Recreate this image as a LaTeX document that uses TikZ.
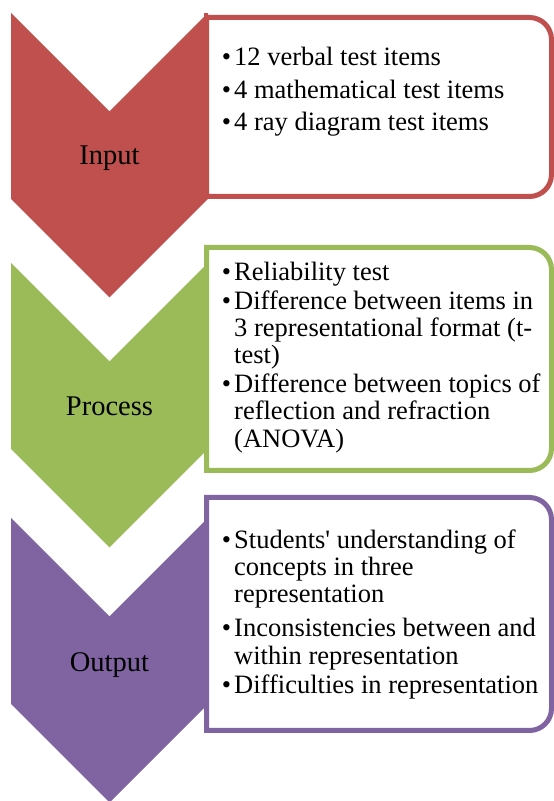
\documentclass[tikz,border=0pt]{standalone}
\usepackage{fontspec}
\setmainfont{Liberation Serif}
\begin{document}
\begin{tikzpicture}[x=1pt,y=1pt,
  stagefill/.style={fill=#1, draw=none},
  listbox/.style={draw=#1, line width=5pt, fill=white},
  stagelabel/.style={anchor=base, inner sep=0pt, font=\fontsize{28.5}{32}\selectfont},
  itemline/.style={anchor=base west, inner sep=0pt, font=\fontsize{26.5}{28}\selectfont},
]
\definecolor{inred}{HTML}{C0504D}
\definecolor{procgreen}{HTML}{9BBB59}
\definecolor{outpurple}{HTML}{8064A2}
\def\bul{\llap{\textbullet\kern3pt}}

% page frame
\path[use as bounding box, fill=white] (0,0) rectangle (554,801);

% ---------- Input stage ----------
\fill[stagefill=inred] (11,788) -- (109.5,689.5) -- (208,788) -- (208,602)
  -- (109.5,503.5) -- (11,602) -- cycle;
\draw[listbox=inred] (206.5,604.5) -- (206.5,783.5) -- (529.5,783.5)
  arc[start angle=90, end angle=0, radius=22] -- (551.5,626.5)
  arc[start angle=0, end angle=-90, radius=22] -- cycle;
\fill[inred] (204,602) rectangle (208,788);
\node[stagelabel] (input) at (109.5,636.7) {Input};
\node[itemline] (in1) at (234,735)   {\bul 12 verbal test items};
\node[itemline] (in2) at (234,702.7) {\bul 4 mathematical test items};
\node[itemline] (in3) at (234,670.3) {\bul 4 ray diagram test items};

% ---------- Process stage ----------
\fill[stagefill=procgreen] (11,538) -- (109.5,439.5) -- (208,538) -- (208,352)
  -- (109.5,253.5) -- (11,352) -- cycle;
\draw[listbox=procgreen] (206.5,330.5) -- (206.5,553.5) -- (529.5,553.5)
  arc[start angle=90, end angle=0, radius=22] -- (551.5,352.5)
  arc[start angle=0, end angle=-90, radius=22] -- cycle;
\node[stagelabel] (process) at (109.5,385.3) {Process};
\node[itemline] (pr1) at (234,520.5) {\bul Reliability test};
\node[itemline] (pr2) at (234,491)   {\bul Difference between items in};
\node[itemline] (pr3) at (234,464)   {3 representational format (t-};
\node[itemline] (pr4) at (234,437)   {test)};
\node[itemline] (pr5) at (234,408)   {\bul Difference between topics of};
\node[itemline] (pr6) at (234,381)   {reflection and refraction};
\node[itemline] (pr7) at (234,353.5) {(ANOVA)};

% ---------- Output stage ----------
\fill[stagefill=outpurple] (11,283) -- (109.5,184.5) -- (208,283) -- (208,97)
  -- (109.5,-1.5) -- (11,97) -- cycle;
\draw[listbox=outpurple] (206.5,70.5) -- (206.5,303.5) -- (529.5,303.5)
  arc[start angle=90, end angle=0, radius=22] -- (551.5,92.5)
  arc[start angle=0, end angle=-90, radius=22] -- cycle;
\node[stagelabel] (output) at (109.5,129.3) {Output};
\node[itemline] (ou1) at (234,252)   {\bul Students\textquotesingle\ understanding of};
\node[itemline] (ou2) at (234,225)   {concepts in three};
\node[itemline] (ou3) at (234,198)   {representation};
\node[itemline] (ou4) at (234,164)   {\bul Inconsistencies between and};
\node[itemline] (ou5) at (234,136.5) {within representation};
\node[itemline] (ou6) at (234,107)   {\bul Difficulties in representation};
\end{tikzpicture}
\end{document}
